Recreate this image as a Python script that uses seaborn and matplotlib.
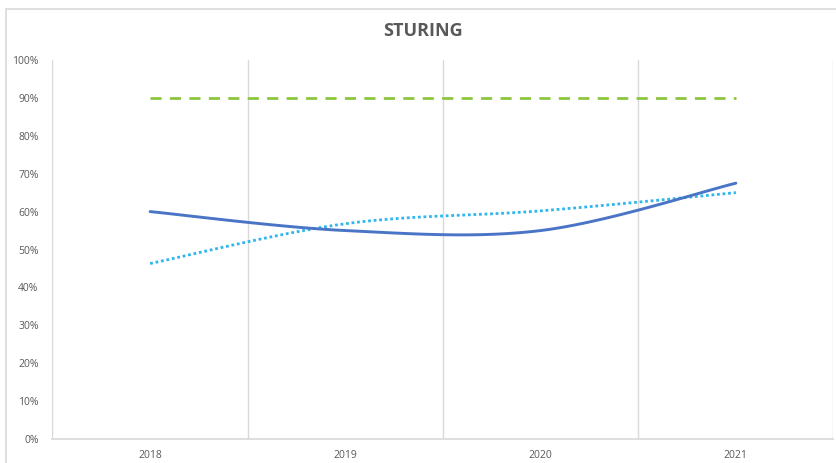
import numpy as np
import seaborn as sns
from matplotlib import pyplot as plt
from matplotlib.patches import Rectangle
from matplotlib.ticker import PercentFormatter, FixedLocator

# chart data
years = ['2018', '2019', '2020', '2021']
resultaat = [60.0, 55.0, 55.0, 67.5]
trend = [46.3, 56.8, 60.2, 65.0]
norm = [90, 90, 90, 90]

sns.set_theme(style='white')
plt.rcParams['font.family'] = ['Open Sans', 'DejaVu Sans']


def smooth(vals, n=40):
    # excel-like smoothed line (catmull-rom bezier between points)
    y = np.asarray(vals, dtype=float)
    x = np.arange(len(y), dtype=float)
    p = np.column_stack([x, y])
    pts = []
    for i in range(len(p) - 1):
        p0 = p[i - 1] if i > 0 else p[i]
        p1, p2 = p[i], p[i + 1]
        p3 = p[i + 2] if i + 2 < len(p) else p[i + 1]
        c1 = p1 + (p2 - p0) / 6
        c2 = p2 - (p3 - p1) / 6
        t = np.linspace(0, 1, n)[:, None]
        seg = ((1 - t) ** 3) * p1 + 3 * ((1 - t) ** 2) * t * c1 + 3 * (1 - t) * t ** 2 * c2 + t ** 3 * p2
        pts.append(seg if i == 0 else seg[1:])
    pts = np.vstack(pts)
    return pts[:, 0], pts[:, 1]


fig = plt.figure(figsize=(8.37, 4.63), dpi=100)
ax = fig.add_axes([52.5 / 837, 1 - 439 / 463, 781 / 837, 379 / 463])

fig.patches.append(Rectangle((6 / 837, -0.1), 1.2, 1.1 - 9 / 463, transform=fig.transFigure,
                             fill=False, edgecolor='#D9D9D9', linewidth=1.2, zorder=0))

sx, sy = smooth(trend)
ax.plot(sx, sy, color='#2EB6EE', linewidth=2.0, linestyle=(0, (1, 1)),
        dash_capstyle='butt', zorder=3)
sx, sy = smooth(resultaat)
ax.plot(sx, sy, color='#4A74C6', linewidth=2.1, solid_capstyle='round', zorder=4)
sns.lineplot(x=np.arange(len(years)), y=norm, ax=ax, color='#8CC63F', linewidth=2,
             linestyle=(0, (4, 3)), zorder=3)

ax.set_xlim(-0.5, len(years) - 0.5)
ax.set_ylim(0, 100)
ax.set_xticks(np.arange(len(years)))
ax.set_xticklabels(years)
ax.xaxis.set_minor_locator(FixedLocator(np.arange(len(years) + 1) - 0.5))
ax.grid(True, which='minor', axis='x', color='#D9D9D9', linewidth=1)
ax.grid(False, which='major')
ax.set_yticks(np.arange(0, 101, 10))
ax.yaxis.set_major_formatter(PercentFormatter(decimals=0))
ax.tick_params(axis='both', labelsize=7.5, colors='#595959', length=0)
ax.tick_params(axis='x', pad=8)
ax.tick_params(axis='y', pad=10)
for s in ['top', 'right', 'left']:
    ax.spines[s].set_visible(False)
ax.spines['bottom'].set_color('#D9D9D9')
ax.set_xlabel('')
ax.set_ylabel('')

fig.text(0.505, 1 - 31 / 463, 'STURING', ha='center', va='center', fontsize=13,
         fontweight='bold', color='#595959')

fig.savefig('out.png', dpi=100)
